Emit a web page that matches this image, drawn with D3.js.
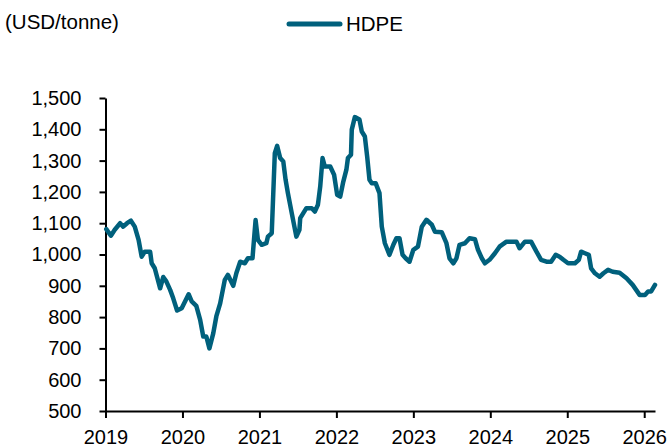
<!DOCTYPE html>
<html>
<head>
<meta charset="utf-8">
<script src="https://cdn.jsdelivr.net/npm/d3@7"></script>
<style>
  body { margin: 0; background: #fff; }
  text { font-family: "Liberation Sans", Arial, sans-serif; }
  .axis path, .axis line { stroke: #000; stroke-width: 2; }
  .axis text { font-size: 20px; fill: #000; }
</style>
</head>
<body>
<div class="chart"></div>
<script>
// time as decimal years
const dates = [
  2019.01, 2019.07, 2019.12, 2019.19, 2019.23, 2019.28, 2019.33, 2019.38, 2019.43, 2019.47,
  2019.51, 2019.58, 2019.60, 2019.64, 2019.71, 2019.75, 2019.79, 2019.84, 2019.88, 2019.93,
  2019.99, 2020.08, 2020.12, 2020.18, 2020.23, 2020.27, 2020.31, 2020.35, 2020.40, 2020.44,
  2020.49, 2020.55, 2020.59, 2020.66, 2020.70, 2020.75, 2020.81, 2020.85, 2020.91, 2020.95,
  2020.98, 2021.03, 2021.09, 2021.11, 2021.16, 2021.20, 2021.23, 2021.27, 2021.31, 2021.34,
  2021.37, 2021.42, 2021.48, 2021.52, 2021.53, 2021.57, 2021.61, 2021.68, 2021.72, 2021.76,
  2021.79, 2021.82, 2021.85, 2021.92, 2021.97, 2022.01, 2022.05, 2022.09, 2022.13, 2022.15,
  2022.19, 2022.20, 2022.24, 2022.30, 2022.33, 2022.37, 2022.40, 2022.43, 2022.46, 2022.51,
  2022.56, 2022.59, 2022.63, 2022.69, 2022.74, 2022.78, 2022.82, 2022.86, 2022.90, 2022.95,
  2023.00, 2023.06, 2023.11, 2023.17, 2023.24, 2023.28, 2023.37, 2023.43, 2023.47, 2023.52,
  2023.56, 2023.60, 2023.67, 2023.73, 2023.80, 2023.84, 2023.89, 2023.93, 2023.99, 2024.06,
  2024.12, 2024.21, 2024.34, 2024.38, 2024.45, 2024.53, 2024.60, 2024.66, 2024.73, 2024.79,
  2024.85, 2024.90, 2024.95, 2025.01, 2025.10, 2025.15, 2025.18, 2025.23, 2025.28, 2025.31,
  2025.36, 2025.42, 2025.47, 2025.53, 2025.59, 2025.68, 2025.77, 2025.85, 2025.94, 2026.01,
  2026.05, 2026.09, 2026.14
];

const hdpe = [
  1081, 1060, 1079, 1100, 1089, 1100, 1108, 1089, 1047, 993,
  1009, 1009, 972, 956, 892, 928, 914, 887, 860, 821,
  828, 873, 850, 836, 791, 738, 738, 700, 748, 802,
  844, 919, 935, 900, 940, 977, 972, 988, 988, 1110,
  1047, 1031, 1036, 1057, 1068, 1324, 1347, 1308, 1297, 1239,
  1196, 1132, 1057, 1079, 1116, 1132, 1148, 1148, 1137, 1159,
  1217, 1308, 1281, 1281, 1255, 1191, 1185, 1233, 1271, 1308,
  1319, 1399, 1439, 1431, 1393, 1377, 1313, 1239, 1228, 1228,
  1196, 1089, 1036, 999, 1031, 1052, 1052, 999, 988, 977,
  1015, 1025, 1089, 1111, 1095, 1073, 1071, 1036, 988, 972,
  988, 1031, 1036, 1052, 1049, 1015, 988, 972, 983, 1004,
  1025, 1041, 1041, 1020, 1041, 1041, 1009, 983, 977, 977,
  999, 993, 983, 972, 972, 983, 1009, 1004, 999, 956,
  940, 929, 940, 951, 945, 942, 924, 903, 871, 871,
  882, 882, 903
];

const yearTicks = [2019, 2020, 2021, 2022, 2023, 2024, 2025, 2026];
const yTicks = [500, 600, 700, 800, 900, 1000, 1100, 1200, 1300, 1400, 1500];

const seriesName = 'HDPE';
const unitLabel = '(USD/tonne)';
const lineColor = '#00607c';

const width = 668;
const height = 448;

const data = dates.map((d, i) => ({ t: d, v: hdpe[i] }));

const x = d3.scaleLinear().domain([2019, 2026.14]).range([105.5, 655]);
const y = d3.scaleLinear().domain([500, 1500]).range([411, 98]);

const svg = d3.select('.chart')
  .append('svg')
  .attr('width', width)
  .attr('height', height);

// unit label + legend
svg.append('text')
  .attr('x', 5)
  .attr('y', 29)
  .attr('font-size', '20.5px')
  .text(unitLabel);

svg.append('line')
  .attr('x1', 289).attr('x2', 340)
  .attr('y1', 24).attr('y2', 24)
  .attr('stroke', lineColor)
  .attr('stroke-width', 5)
  .attr('stroke-linecap', 'round');

svg.append('text')
  .attr('x', 346)
  .attr('y', 31)
  .attr('font-size', '20.5px')
  .text(seriesName);

// axes
const yAxis = d3.axisLeft(y)
  .tickValues(yTicks)
  .tickSize(6)
  .tickSizeOuter(0)
  .tickPadding(18)
  .tickFormat(d3.format(','));

svg.append('g')
  .attr('class', 'axis y-axis')
  .attr('transform', `translate(${x(2019)}, 0)`)
  .call(yAxis);

const xAxis = d3.axisBottom(x)
  .tickValues(yearTicks)
  .tickSize(7)
  .tickSizeOuter(0)
  .tickPadding(12)
  .tickFormat(d3.format('d'));

svg.append('g')
  .attr('class', 'axis x-axis')
  .attr('transform', `translate(0, ${y(500)})`)
  .call(xAxis);

svg.selectAll('.axis .domain').attr('stroke-width', 2.5);

// series line
const line = d3.line()
  .x(d => x(d.t))
  .y(d => y(d.v));

svg.append('path')
  .datum(data)
  .attr('fill', 'none')
  .attr('stroke', lineColor)
  .attr('stroke-width', 4.5)
  .attr('stroke-linejoin', 'round')
  .attr('stroke-linecap', 'round')
  .attr('d', line);
</script>
</body>
</html>
